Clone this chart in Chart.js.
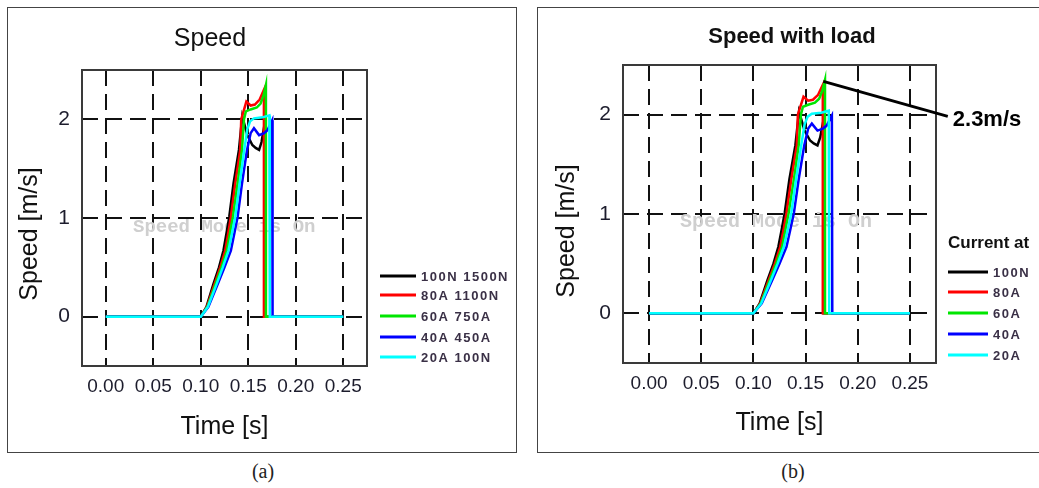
<!DOCTYPE html>
<html>
<head>
<meta charset="utf-8">
<title>Speed</title>
<script src="https://cdn.jsdelivr.net/npm/chart.js@4.4.0/dist/chart.umd.min.js"></script>
<style>
  body { margin: 0; width: 1039px; height: 488px; overflow: hidden; background: #fff; position: relative; }
  .box { position: absolute; top: 7px; height: 444px; border: 1px solid #444; }
  #boxA { left: 7px; width: 508px; }
  #boxB { left: 537px; width: 520px; }
  .box canvas { position: absolute; left: 0; top: 0; }
  .cap { position: absolute; top: 460px; width: 60px; text-align: center; font: 20px "Liberation Serif", "Times New Roman", serif; color: #222; }
</style>
</head>
<body>
<div class="box" id="boxA"><canvas id="chartA" width="508" height="444"></canvas></div>
<div class="box" id="boxB"><canvas id="chartB" width="508" height="444"></canvas></div>
<div class="cap" style="left:233px">(a)</div>
<div class="cap" style="left:763px">(b)</div>
<script>
// axis ticks
const tickTime = [0, 0.05, 0.10, 0.15, 0.20, 0.25];
const tickSpeed = [0, 1, 2];

// legend labels
const labelsA = ["100N 1500N", "80A 1100N", "60A 750A", "40A 450A", "20A 100N"];
const labelsB = ["100N", "80A", "60A", "40A", "20A"];

// speed curves (time in s, speed in m/s)
const tBlack = [0, 0.100, 0.106, 0.1133, 0.1192, 0.1239, 0.1272, 0.1300, 0.1345, 0.1402, 0.1437, 0.1490, 0.1543, 0.1578, 0.1614, 0.1640, 0.1672, 0.1672, 0.25];
const vBlack = [0, 0, 0.10, 0.33, 0.50, 0.67, 0.85, 1.01, 1.35, 1.69, 2.03, 1.84, 1.74, 1.71, 1.69, 1.77, 1.95, 0, 0];

const tRed = [0, 0.100, 0.1065, 0.1145, 0.1205, 0.1257, 0.1290, 0.1317, 0.1363, 0.1416, 0.1426, 0.1480, 0.1525, 0.1570, 0.1620, 0.1665, 0.1665, 0.25];
const vRed = [0, 0, 0.10, 0.33, 0.50, 0.67, 0.85, 1.01, 1.35, 1.69, 2.00, 2.18, 2.14, 2.15, 2.20, 2.30, 0, 0];

const tGreen = [0, 0.100, 0.107, 0.1155, 0.1218, 0.1275, 0.1308, 0.1338, 0.1388, 0.1434, 0.1455, 0.1475, 0.1525, 0.1590, 0.1630, 0.1660, 0.1686, 0.1686, 0.25];
const vGreen = [0, 0, 0.10, 0.33, 0.50, 0.67, 0.85, 1.01, 1.35, 1.69, 2.00, 2.08, 2.10, 2.12, 2.16, 2.24, 2.35, 0, 0];

const tBlue = [0, 0.100, 0.108, 0.1179, 0.1250, 0.1317, 0.1355, 0.1388, 0.1434, 0.1487, 0.1525, 0.1560, 0.1614, 0.1667, 0.1702, 0.1752, 0.1756, 0.25];
const vBlue = [0, 0, 0.10, 0.33, 0.50, 0.67, 0.85, 1.01, 1.35, 1.69, 1.86, 1.91, 1.84, 1.86, 1.89, 1.99, 0, 0];

const tCyan = [0, 0.100, 0.1075, 0.1167, 0.1232, 0.1292, 0.1330, 0.1363, 0.1409, 0.1458, 0.1490, 0.1520, 0.1560, 0.1650, 0.1722, 0.1727, 0.25];
const vCyan = [0, 0, 0.10, 0.33, 0.50, 0.67, 0.85, 1.01, 1.35, 1.69, 1.90, 1.98, 2.01, 2.02, 2.04, 0, 0];

// annotation on panel (b): peak point and where the pointer line ends
const notePeak = [0.167, 2.335];
const noteEnd = [0.2863, 1.983];
const noteText = "2.3m/s";

const lineColors = ["#000000", "#ff0000", "#00e600", "#0000ff", "#00ffff"];
const allT = [tBlack, tRed, tGreen, tBlue, tCyan];
const allV = [vBlack, vRed, vGreen, vBlue, vCyan];

function toPoints(t, v) {
  return t.map((x, i) => ({ x: x, y: v[i] }));
}

// titles, watermark, frame, legend and the note
const panelPlugin = {
  id: "panel",
  beforeDatasetsDraw(chart, args, o) {
    const ctx = chart.ctx, a = chart.chartArea;
    ctx.save();
    ctx.font = o.markFont;
    ctx.fillStyle = "#cfcfcf";
    ctx.textBaseline = "middle";
    ctx.fillText("Speed Mode is On", o.markX, o.markY);
    ctx.strokeStyle = "#3a3a3a";
    ctx.lineWidth = 2;
    ctx.strokeRect(a.left, a.top, a.right - a.left, a.bottom - a.top);
    ctx.restore();
  },
  afterDraw(chart, args, o) {
    const ctx = chart.ctx;
    ctx.save();
    ctx.fillStyle = "#111";
    ctx.textAlign = "center";
    ctx.textBaseline = "middle";
    ctx.font = o.titleFont;
    ctx.fillText(o.title, o.titleX, o.titleY);

    // y axis title
    ctx.save();
    ctx.translate(o.yTitleX, o.yTitleY);
    ctx.rotate(-Math.PI / 2);
    ctx.font = "25px Arial, 'Liberation Sans', sans-serif";
    ctx.fillText("Speed [m/s]", 0, 0);
    ctx.restore();

    // legend
    ctx.textAlign = "left";
    if (o.legendTitle) {
      ctx.font = "bold 17px Arial, 'Liberation Sans', sans-serif";
      ctx.fillText(o.legendTitle, o.legX, o.legTitleY);
    }
    ctx.font = "bold 13px Arial, 'Liberation Sans', sans-serif";
    ctx.letterSpacing = "1.5px";
    o.labels.forEach((lab, i) => {
      const y = o.legY[i];
      ctx.strokeStyle = lineColors[i];
      ctx.lineWidth = 3;
      ctx.beginPath();
      ctx.moveTo(o.legX, y);
      ctx.lineTo(o.legX + o.legLen, y);
      ctx.stroke();
      ctx.fillStyle = "#3a3046";
      ctx.fillText(lab, o.legX + o.legLen + 5, y + 1);
    });
    ctx.letterSpacing = "0px";

    // pointer note
    if (o.note) {
      const xs = chart.scales.x, ys = chart.scales.y;
      const x0 = xs.getPixelForValue(notePeak[0]), y0 = ys.getPixelForValue(notePeak[1]);
      const x1 = xs.getPixelForValue(noteEnd[0]), y1 = ys.getPixelForValue(noteEnd[1]);
      ctx.strokeStyle = "#000";
      ctx.lineWidth = 3;
      ctx.beginPath();
      ctx.moveTo(x0, y0);
      ctx.lineTo(x1, y1);
      ctx.stroke();
      ctx.fillStyle = "#000";
      ctx.font = "bold 22px Arial, 'Liberation Sans', sans-serif";
      ctx.fillText(noteText, x1 + 5, y1 + 4);
    }
    ctx.restore();
  }
};

function makeChart(id, p) {
  const datasets = allT.map((t, i) => ({
    data: toPoints(t, allV[i]),
    borderColor: lineColors[i],
    borderWidth: 2.5,
    pointRadius: 0,
    tension: 0,
    order: 4 - i
  }));
  return new Chart(document.getElementById(id), {
    type: "line",
    data: { datasets: datasets },
    plugins: [panelPlugin],
    options: {
      responsive: false,
      animation: false,
      devicePixelRatio: 1,
      layout: { padding: { left: 0, top: p.top, right: p.right, bottom: 0 } },
      plugins: {
        legend: { display: false },
        title: { display: false },
        tooltip: { enabled: false },
        panel: p.panel
      },
      scales: {
        x: {
          type: "linear",
          min: -0.025,
          max: 0.275,
          afterBuildTicks: (s) => { s.ticks = tickTime.map((v) => ({ value: v })); },
          afterFit: (s) => { s.height = p.xHeight; },
          ticks: {
            padding: 9,
            color: "#1c1c2c",
            font: { family: "Arial, 'Liberation Sans', sans-serif", size: 19 },
            callback: (v) => Number(v).toFixed(2)
          },
          grid: { color: "#111", lineWidth: 2, drawTicks: false },
          border: { display: false, dash: [16, 8] },
          title: {
            display: true,
            text: "Time [s]",
            color: "#111",
            font: { family: "Arial, 'Liberation Sans', sans-serif", size: 25 },
            padding: { top: 0, bottom: p.xTitlePad }
          }
        },
        y: {
          min: -0.5,
          max: 2.5,
          afterBuildTicks: (s) => { s.ticks = tickSpeed.map((v) => ({ value: v })); },
          afterFit: (s) => { s.width = p.yWidth; },
          ticks: {
            padding: p.yTickPad,
            color: "#1c1c2c",
            font: { family: "Arial, 'Liberation Sans', sans-serif", size: 21 },
            callback: (v) => String(v)
          },
          grid: { color: "#111", lineWidth: 2, drawTicks: false },
          border: { display: false, dash: [16, 8] }
        }
      }
    }
  });
}

makeChart("chartA", {
  top: 62, right: 149, xHeight: 86, xTitlePad: 10, yWidth: 74, yTickPad: 12,
  panel: {
    title: "Speed", titleFont: "25px Arial, 'Liberation Sans', sans-serif", titleX: 202, titleY: 31,
    yTitleX: 22, yTitleY: 226,
    markFont: "bold 19px 'Liberation Mono', monospace", markX: 125, markY: 219,
    labels: labelsA, legX: 372, legLen: 36, legY: [268, 287, 308, 329, 349],
    note: false
  }
});

makeChart("chartB", {
  top: 57, right: 110, xHeight: 89, xTitlePad: 14, yWidth: 85, yTickPad: 12,
  panel: {
    title: "Speed with load", titleFont: "bold 22px Arial, 'Liberation Sans', sans-serif", titleX: 254, titleY: 29,
    yTitleX: 29, yTitleY: 223,
    markFont: "bold 20px 'Liberation Mono', monospace", markX: 142, markY: 214,
    legendTitle: "Current at", legTitleY: 235,
    labels: labelsB, legX: 410, legLen: 40, legY: [264, 284, 305, 326, 347],
    note: true
  }
});
</script>
</body>
</html>
